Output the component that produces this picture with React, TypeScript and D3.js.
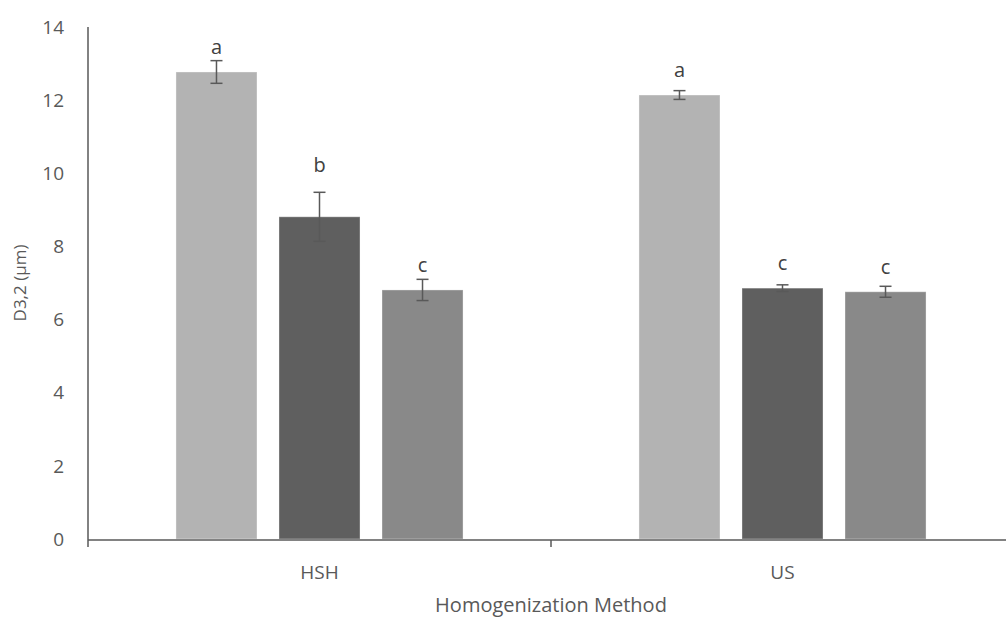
import React from 'react';
import * as d3 from 'd3';

// chart data
const methods = ['HSH', 'US'];
const treatments = ['T1', 'T2', 'T3'];
const meanHSH = [12.77, 8.81, 6.81];
const errHSH = [0.31, 0.67, 0.29];
const lettersHSH = ['a', 'b', 'c'];
const meanUS = [12.14, 6.86, 6.76];
const errUS = [0.12, 0.09, 0.15];
const lettersUS = ['a', 'c', 'c'];
const yTicks = [0, 2, 4, 6, 8, 10, 12, 14];

const W = 1006;
const H = 619;
const font = "'Open Sans', 'Liberation Sans', sans-serif";
const textColor = '#595959';
const barColors = ['#b3b3b3', '#5f5f5f', '#898989'];

const rows = [
  { method: methods[0], mean: meanHSH, err: errHSH, letters: lettersHSH },
  { method: methods[1], mean: meanUS, err: errUS, letters: lettersUS },
];

export default function App() {
  const left = 88;
  const top = 27;
  const bottom = 539;

  // category band runs past the right edge, like the cropped original
  const x = d3.scaleBand<string>().domain(methods).range([left, 1014]).paddingInner(0).paddingOuter(0);
  const y = d3.scaleLinear().domain([0, 14]).range([bottom, top]);
  const inner = d3.scaleBand<string>().domain(treatments).range([0, x.bandwidth()]).paddingInner(0.2136).paddingOuter(0.854);

  const boundaries = [left, ...methods.map((m) => (x(m) as number) + x.bandwidth())];

  return (
    <div style={{ position: 'absolute', left: 0, top: 0 }}>
      <svg width={W} height={H} style={{ display: 'block', background: '#fff' }}>
        {/* bars */}
        {rows.map((r) =>
          treatments.map((t, i) => {
            const bx = (x(r.method) as number) + (inner(t) as number);
            const bw = inner.bandwidth();
            const cx = bx + bw / 2;
            const yTop = y(r.mean[i]);
            const hi = y(r.mean[i] + r.err[i]);
            const lo = y(r.mean[i] - r.err[i]);
            const labelY = r.err[i] > 0.5 ? hi - 20 : yTop - 18;
            return (
              <g key={r.method + t}>
                <rect x={bx} y={yTop} width={bw} height={bottom - yTop} fill={barColors[i]} stroke="#ffffff" strokeOpacity={0.35} strokeWidth={1} />
                <line x1={cx} x2={cx} y1={hi} y2={lo} stroke={textColor} strokeWidth={1.5} />
                <line x1={cx - 6} x2={cx + 6} y1={hi} y2={hi} stroke={textColor} strokeWidth={1.5} />
                <line x1={cx - 6} x2={cx + 6} y1={lo} y2={lo} stroke={textColor} strokeWidth={1.5} />
                <text x={cx} y={labelY} textAnchor="middle" fontFamily={font} fontSize={20} fill="#404040">
                  {r.letters[i]}
                </text>
              </g>
            );
          })
        )}

        {/* y axis */}
        <line x1={left} x2={left} y1={top} y2={bottom + 1} stroke={textColor} strokeWidth={1.5} />
        {yTicks.map((v) => (
          <text key={v} x={64} y={y(v)} dy="0.35em" textAnchor="end" fontFamily={font} fontSize={19} fill={textColor}>
            {v}
          </text>
        ))}
        <text
          transform={`translate(20,${(top + bottom) / 2}) rotate(-90)`}
          textAnchor="middle"
          dy="0.35em"
          fontFamily={font}
          fontSize={17}
          fill={textColor}
        >
          D3,2 (µm)
        </text>

        {/* x axis */}
        <line x1={left} x2={W} y1={bottom + 1} y2={bottom + 1} stroke={textColor} strokeWidth={1.5} />
        {boundaries.map((bx, i) => (
          <line key={i} x1={bx} x2={bx} y1={bottom + 1} y2={bottom + 8} stroke={textColor} strokeWidth={1.5} />
        ))}
        {methods.map((m) => (
          <text key={m} x={(x(m) as number) + x.bandwidth() / 2} y={579} textAnchor="middle" fontFamily={font} fontSize={19} fill={textColor}>
            {m}
          </text>
        ))}
        <text x={551} y={612} textAnchor="middle" fontFamily={font} fontSize={20} fill={textColor}>
          Homogenization Method
        </text>
      </svg>
    </div>
  );
}
